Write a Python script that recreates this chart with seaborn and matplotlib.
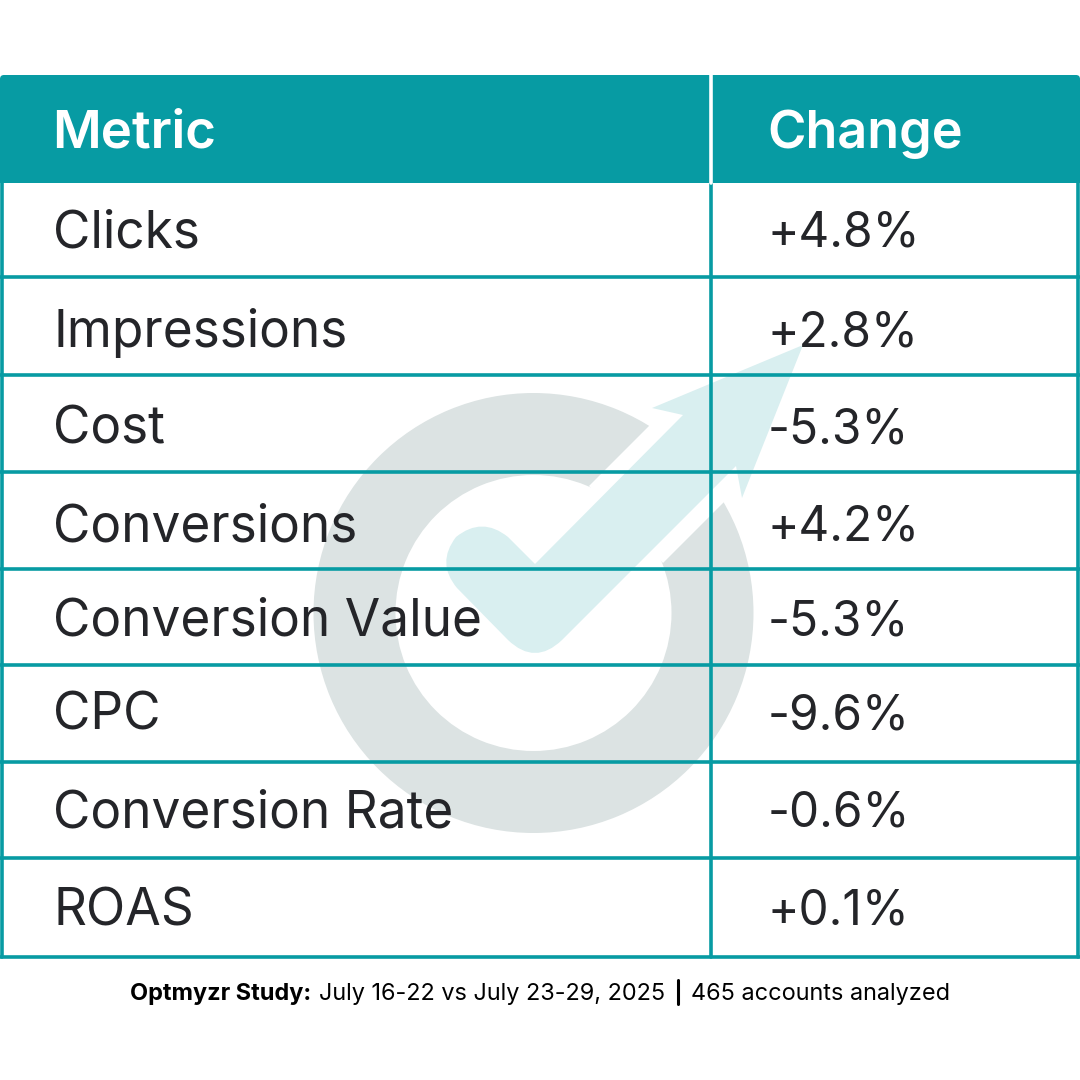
"""
Optmyzr study table, weekly change per metric
"""
import pandas as pd
import seaborn as sns
import matplotlib.pyplot as plt
from matplotlib.patches import Wedge, Polygon, PathPatch, FancyBboxPatch
from matplotlib.path import Path

# table content
headers = ['Metric', 'Change']
metrics = ['Clicks', 'Impressions', 'Cost', 'Conversions', 'Conversion Value', 'CPC', 'Conversion Rate', 'ROAS']
changes = ['+4.8%', '+2.8%', '-5.3%', '+4.2%', '-5.3%', '-9.6%', '-0.6%', '+0.1%']
study_label = 'Optmyzr Study:'
study_dates = 'July 16-22 vs July 23-29, 2025'
study_size = '465 accounts analyzed'

# layout in pixels
row_edges = [276.5, 374.5, 471.5, 568.5, 665, 761.7, 858, 956.5]
row_text_y = [229, 329, 426, 523, 618, 712, 809, 907]
col_split = 711
TEAL = '#079ba3'
INK = '#242529'

sns.set_theme(style='white')
plt.rcParams['font.family'] = ['Inter', 'DejaVu Sans']

fig = plt.figure(figsize=(10.8, 10.8), dpi=100)
ax = fig.add_axes([0, 0, 1, 1])
ax.set_xlim(0, 1080)
ax.set_ylim(1080, 0)
ax.axis('off')

# watermark logo: ring with a white diagonal gap, then the check arrow
ax.add_patch(Wedge((533.5, 613), 220, 0, 360, width=82, color='#dce3e3', lw=0, zorder=1))
ax.add_patch(Polygon([(589, 486), (663, 563), (793, 433), (718, 357)], color='white', lw=0, zorder=2))
M, L, C = Path.MOVETO, Path.LINETO, Path.CURVE3
arrow = Path(
    [(803, 345), (652, 408), (683, 415), (535, 564), (508, 537), (482, 516), (456, 537),
     (436, 563), (457, 588), (508, 640), (535, 666), (562, 640), (736, 466), (742, 498), (803, 345)],
    [M, L, L, L, L, C, C, C, C, L, C, C, L, L, L])
ax.add_patch(PathPatch(arrow, facecolor='#d9eff0', lw=0, zorder=3))

# header band, small round corners on top
ax.add_patch(FancyBboxPatch((4, 79), 1072, 100, boxstyle='round,pad=4,rounding_size=4',
                            facecolor=TEAL, lw=0, zorder=4))
ax.fill_between([0, 1080], 150, 183, color=TEAL, lw=0, zorder=4)

# grid lines go through seaborn
lines = []
for i, y in enumerate(row_edges):
    lines.append({'line': f'h{i}', 'x': 0, 'y': y})
    lines.append({'line': f'h{i}', 'x': 1080, 'y': y})
for i, x in enumerate([2, col_split, 1078]):
    lines.append({'line': f'v{i}', 'x': x, 'y': 183})
    lines.append({'line': f'v{i}', 'x': x, 'y': 957})
grid = pd.DataFrame(lines)
sns.lineplot(data=grid, x='x', y='y', units='line', estimator=None, sort=False,
             color=TEAL, linewidth=2.6, ax=ax, zorder=5, legend=False)
ax.set_xlim(0, 1080)
ax.set_ylim(1080, 0)
ax.plot([col_split, col_split], [75, 183], color='white', lw=2.6, zorder=6)

# text
ax.text(52, 134, headers[0], color='white', fontsize=38, fontweight='semibold', va='center', zorder=7)
ax.text(767, 134, headers[1], color='white', fontsize=37.6, fontweight='semibold', va='center', zorder=7)
for name, change, y in zip(metrics, changes, row_text_y):
    ax.text(53, y + 4.5, name, color=INK, fontsize=37, va='center', zorder=7)
    ax.text(768, y + 4.5, change, color=INK, fontsize=34.4, va='center', zorder=7)

ax.text(130, 994, study_label, color='black', fontsize=16.9, fontweight='bold', va='center')
ax.text(319, 994, study_dates, color='black', fontsize=16.9, va='center')
ax.plot([678, 678], [980, 1004], color='black', lw=2.2)
ax.text(691, 994, study_size, color='black', fontsize=16.9, va='center')

fig.savefig('out.png', dpi=100)
